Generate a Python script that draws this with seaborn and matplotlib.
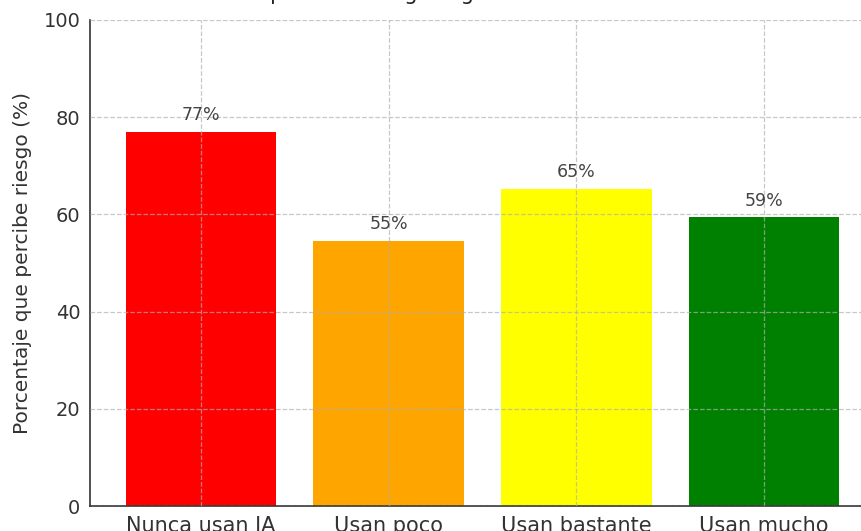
import matplotlib
matplotlib.use("Agg")
import matplotlib.pyplot as plt
import seaborn as sns
import pandas as pd

categories = ["Nunca usan IA", "Usan poco", "Usan bastante", "Usan mucho"]
values = [77.0, 54.6, 65.3, 59.4]
colors = ["#ff0000", "#ffa500", "#ffff00", "#008000"]
y_ticks = [0, 20, 40, 60, 80, 100]
title = "Percepción de riesgo según frecuencia de uso de IA"
ylabel = "Porcentaje que percibe riesgo (%)"

sns.set_style("white")
plt.rcParams["font.family"] = ["DejaVu Sans"]

df = pd.DataFrame({"cat": categories, "val": values})

fig = plt.figure(figsize=(8.61, 5.31), dpi=100)
ax = fig.add_axes([90 / 861, 25 / 531, 785 / 861, 486 / 531])

sns.barplot(data=df, x="cat", y="val", hue="cat", palette=colors,
            order=categories, hue_order=categories, legend=False,
            width=0.8, saturation=1, ax=ax, edgecolor="none")

for i, v in enumerate(values):
    ax.text(i, v + 1.5, f"{v:.0f}%", ha="center", va="bottom",
            fontsize=12.5, color="#444444")

ax.set_xlim(-0.59, 3.59)
ax.set_ylim(0, 100)
ax.set_yticks(y_ticks)
ax.set_xlabel("")
ax.set_ylabel(ylabel, fontsize=14.5, color="#333333", labelpad=8)
ax.tick_params(axis="y", labelsize=14, colors="#333333")
ax.tick_params(axis="x", labelsize=15, colors="#333333")
ax.grid(True, linestyle="--", color="#b0b0b0", alpha=0.7, linewidth=0.9)
ax.set_axisbelow(False)
for s in ["top", "right"]:
    ax.spines[s].set_visible(False)
for s in ["left", "bottom"]:
    ax.spines[s].set_color("#333333")
    ax.spines[s].set_linewidth(1.2)

fig.text(482 / 861, 1.0, title, ha="center", va="baseline",
         fontsize=15, color="#222222")

fig.savefig("out.png", dpi=100)
